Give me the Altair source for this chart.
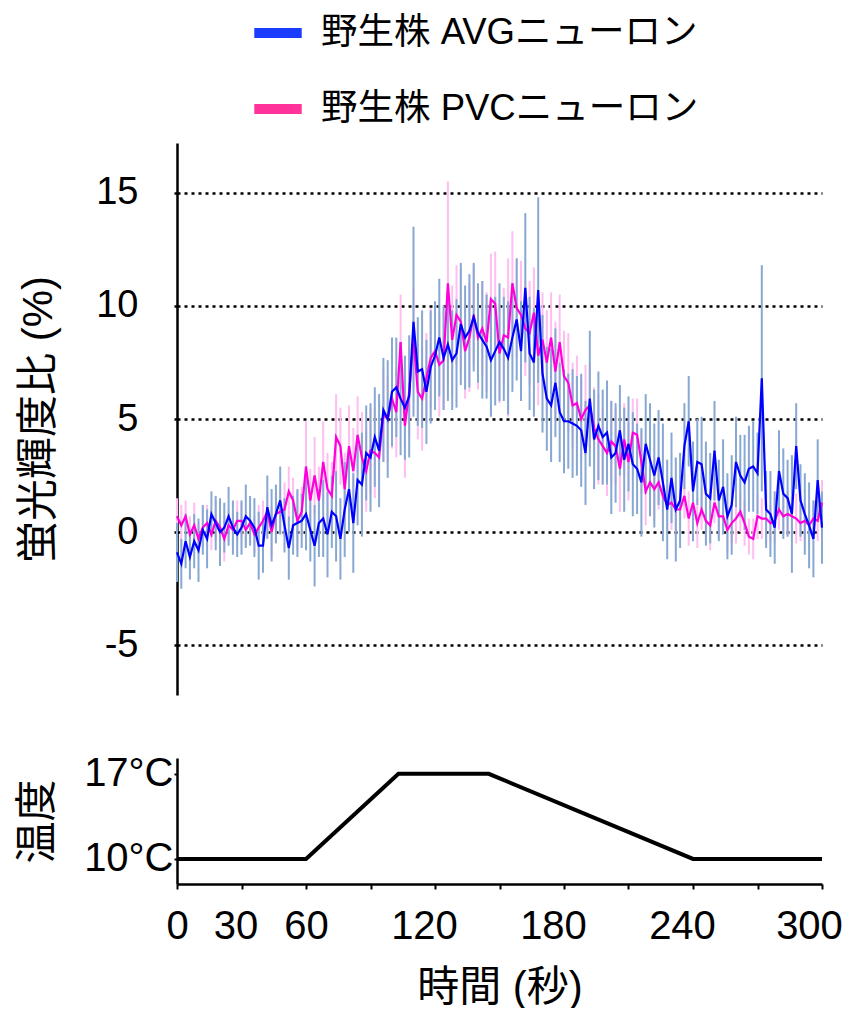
import altair as alt
import pandas as pd

# ---- data ----
time_s = list(range(0, 301, 2))

avg_mean = [
    -0.9, -1.4, -0.4, -1.1, -0.4, -0.8, 0.1, -0.3, 0.8, 0.4, 0.0, 0.2, 0.7, 0.2, -0.1,
    0.2, 0.7, 0.5, 0.2, -0.6, -0.6, 1.1, 0.3, 0.8, 1.4, 0.3, -0.7, 0.3, 0.4, 0.5,
    0.8, 0.1, -0.6, 0.4, 0.6, -0.1, 0.9, 0.7, -0.3, 1.0, 1.9, 0.4, 2.3, 2.1, 3.5,
    3.3, 4.2, 3.6, 5.4, 5.0, 6.2, 6.4, 5.9, 5.5, 6.0, 9.3, 7.1, 7.2, 6.2, 7.3,
    7.8, 8.6, 7.7, 8.3, 7.6, 7.9, 9.2, 8.6, 8.9, 9.5, 8.8, 8.5, 8.2, 7.6, 8.0,
    8.4, 8.1, 7.7, 8.6, 9.4, 8.0, 10.8, 7.9, 7.5, 10.7, 7.0, 5.9, 5.6, 6.6, 5.3,
    4.9, 4.9, 4.8, 4.7, 4.5, 3.5, 5.9, 4.1, 4.7, 4.2, 4.4, 3.3, 3.5, 4.5, 3.2,
    3.9, 3.0, 2.8, 2.2, 3.9, 3.2, 2.5, 3.3, 2.2, 1.0, 2.4, 1.0, 1.4, 3.8, 4.9,
    1.8, 3.1, 3.0, 1.7, 1.5, 3.6, 1.4, 2.0, 0.7, 1.2, 3.1, 2.5, 2.2, 2.8, 2.9,
    2.6, 6.8, 1.0, 0.8, 0.2, 2.7, 1.7, 1.5, 0.8, 3.8, 1.4, 0.8, 0.3, -0.3, 2.3,
    0.2,
]
avg_sem = [
    1.3, 1.1, 1.2, 1.0, 1.2, 1.4, 1.1, 1.3, 1.0, 1.2, 1.5, 1.1, 1.3, 1.2, 1.0,
    1.2, 1.4, 1.1, 1.3, 1.5, 1.2, 1.4, 1.6, 1.3, 1.5, 1.2, 1.4, 1.3, 1.5, 1.2,
    1.6, 1.4, 1.8, 1.5, 1.7, 1.9, 1.6, 2.0, 1.8, 2.1, 1.9, 2.2, 2.0, 2.3, 2.1,
    2.4, 2.2, 2.5, 2.3, 2.6, 2.4, 2.2, 2.5, 2.3, 2.7, 4.2, 2.4, 2.6, 2.3, 2.5,
    2.4, 2.6, 2.3, 2.5, 2.2, 2.4, 2.7, 2.3, 2.5, 2.4, 2.2, 2.6, 2.3, 2.5, 2.4,
    2.6, 2.3, 2.5, 2.4, 2.7, 2.2, 3.3, 2.5, 2.4, 4.1, 2.6, 2.3, 2.5, 2.4, 2.2,
    2.3, 2.1, 2.4, 2.2, 2.5, 2.3, 3.0, 2.2, 2.4, 2.1, 2.3, 2.5, 2.2, 2.0, 2.3,
    2.1, 2.3, 2.0, 2.4, 2.2, 2.5, 2.3, 2.1, 2.6, 2.2, 2.0, 2.3, 2.1, 1.9, 2.0,
    2.2, 1.9, 2.1, 2.3, 2.0, 2.2, 1.8, 2.1, 1.9, 2.2, 2.0, 1.8, 2.1, 1.9, 2.0,
    1.8, 5.0, 1.7, 1.9, 1.6, 1.8, 2.0, 1.7, 2.6, 1.9, 1.6, 1.8, 1.9, 1.7, 1.8,
    1.6,
]
pvc_mean = [
    0.7, 0.3, 0.7, -0.1, 0.3, -0.3, 0.2, 0.4, -0.1, 0.5, 0.2, -0.3, 0.3, 0.1, 0.5,
    0.5, 0.1, 0.4, -0.1, 0.2, 0.5, 0.9, 0.0, 0.8, 0.9, 1.0, 1.8, 1.4, 0.5, 0.9,
    2.9, 1.4, 2.5, 1.4, 3.1, 1.9, 1.6, 4.2, 3.8, 1.9, 3.8, 2.7, 4.3, 3.3, 2.7,
    3.6, 3.5, 3.3, 5.2, 5.0, 5.9, 5.3, 8.4, 4.7, 6.2, 8.6, 6.2, 5.9, 6.8, 7.7,
    8.0, 7.4, 7.6, 11.0, 8.5, 9.6, 9.3, 8.0, 8.6, 9.6, 8.6, 9.0, 8.4, 10.3, 10.1,
    7.9, 8.7, 8.6, 11.0, 9.9, 9.6, 9.0, 8.8, 9.7, 7.8, 8.5, 7.5, 8.6, 7.1, 8.4,
    6.9, 6.6, 5.6, 5.7, 5.0, 5.4, 5.6, 4.6, 4.1, 3.8, 3.5, 4.0, 3.8, 2.8, 4.1,
    3.1, 4.4, 4.3, 3.1, 1.8, 2.2, 1.9, 2.2, 1.6, 1.2, 1.3, 1.0, 1.0, 1.6, 0.6,
    1.3, 0.4, 1.0, 0.5, 0.3, 1.3, 0.7, 0.7, 0.1, 0.4, 0.6, 0.9, 0.4, -0.2, -0.3,
    0.7, 0.6, 0.6, 0.4, 0.5, 1.0, 0.7, 0.8, 0.7, 0.6, 0.4, 0.5, 0.3, 0.6, 0.5,
    1.3,
]
pvc_sem = [
    0.8, 0.9, 0.7, 0.8, 1.0, 0.7, 0.9, 0.8, 0.7, 0.9, 0.8, 1.0, 0.7, 0.8, 0.9,
    0.8, 0.7, 0.9, 0.8, 1.0, 0.9, 0.8, 1.1, 0.9, 1.0, 1.2, 1.1, 1.0, 1.3, 1.1,
    2.0, 1.4, 1.7, 1.5, 1.8, 1.6, 1.5, 1.9, 1.7, 1.6, 1.8, 1.9, 1.7, 2.0, 1.8,
    1.9, 2.0, 1.8, 2.1, 1.9, 2.2, 2.0, 2.1, 2.3, 2.0, 2.2, 2.1, 2.3, 2.0, 2.2,
    2.1, 2.3, 2.2, 4.5, 2.4, 2.2, 2.3, 2.1, 2.4, 2.2, 2.3, 2.1, 2.2, 2.0, 2.3,
    2.2, 2.1, 3.5, 2.3, 2.2, 2.4, 2.1, 2.3, 2.0, 2.2, 2.1, 2.3, 2.0, 2.2, 2.1,
    2.0, 2.2, 1.9, 2.1, 1.8, 2.0, 1.9, 1.8, 2.0, 1.7, 1.9, 1.8, 1.7, 1.9, 1.6,
    1.7, 1.5, 1.6, 1.4, 1.5, 1.3, 1.4, 1.2, 1.3, 1.1, 1.2, 1.0, 1.1, 1.0, 1.2,
    1.0, 1.1, 0.9, 1.0, 1.1, 0.9, 1.0, 0.8, 1.0, 0.9, 1.1, 0.9, 1.0, 0.8, 0.9,
    1.0, 0.9, 1.1, 0.8, 1.0, 0.9, 0.8, 1.0, 0.9, 1.1, 0.8, 0.9, 1.0, 0.8, 0.9,
    1.0,
]

temp_time = [0, 60, 103, 145, 240, 300]
temp_c = [10, 10, 17, 17, 10, 10]

series_names = ["野生株 AVGニューロン", "野生株 PVCニューロン"]
legend_colors = ["#1a3cff", "#ff3399"]
line_colors = ["#0000ff", "#ff00dc"]
err_colors = ["#86a8d3", "#ffbdf0"]

FONT = "Liberation Sans, Noto Sans CJK JP, sans-serif"

rows = []
for k, (means, sems) in enumerate([(pvc_mean, pvc_sem), (avg_mean, avg_sem)]):
    idx = 1 - k
    for t, m, e in zip(time_s, means, sems):
        rows.append({
            "t": t, "mean": m, "lo": m - e, "hi": m + e,
            "series": series_names[idx],
            "linec": line_colors[idx], "errc": err_colors[idx],
        })
df = pd.DataFrame(rows)
temp_df = pd.DataFrame({"t": temp_time, "temp": temp_c})

xs = alt.Scale(domain=[0, 300], nice=False)
ys = alt.Scale(domain=[-7.2, 17.2], nice=False, zero=False)

y_axis = alt.Axis(
    values=[-5, 0, 5, 10, 15], labelExpr="'' + datum.value", title="蛍光輝度比 (%)",
    grid=True, gridDash=[3, 4], gridColor="black", gridWidth=2.5, gridOpacity=1,
    domainColor="black", domainWidth=2.5,
    tickSize=4, tickColor="black", tickWidth=2.5, tickDash=[3, 4],
    labelFontSize=38, labelFont=FONT, labelColor="black", labelPadding=35,
    titleFontSize=42, titleFont=FONT, titleColor="black", titleFontWeight="normal",
    titlePadding=35,
)

err = alt.Chart(df).mark_rule(strokeWidth=2).encode(
    x=alt.X("t:Q", scale=xs, axis=None),
    y=alt.Y("lo:Q", scale=ys, axis=y_axis),
    y2="hi:Q",
    stroke=alt.Stroke("errc:N", scale=None),
)

legend = alt.Legend(
    title=None, orient="none", legendX=72, legendY=-139, direction="vertical",
    symbolType="stroke", symbolStrokeWidth=10, symbolSize=2250,
    labelFontSize=36.5, labelFont=FONT, labelColor="black", labelOffset=14,
    labelLimit=0, rowPadding=27, padding=0, symbolOpacity=1,
)

# zero-length rules that only carry the legend
legend_carrier = alt.Chart(df).transform_filter(
    alt.datum.t == 0
).mark_rule(strokeWidth=10, strokeCap="butt").encode(
    x=alt.X("t:Q", scale=xs),
    y=alt.Y("mean:Q", scale=ys),
    y2="mean:Q",
    color=alt.Color("series:N", scale=alt.Scale(domain=series_names, range=legend_colors), legend=legend),
)

pvc_line = alt.Chart(df).transform_filter(
    alt.datum.series == series_names[1]
).mark_line(strokeWidth=2.2).encode(
    x=alt.X("t:Q", scale=xs),
    y=alt.Y("mean:Q", scale=ys),
    stroke=alt.Stroke("linec:N", scale=None),
)
avg_line = alt.Chart(df).transform_filter(
    alt.datum.series == series_names[0]
).mark_line(strokeWidth=2.2).encode(
    x=alt.X("t:Q", scale=xs),
    y=alt.Y("mean:Q", scale=ys),
    stroke=alt.Stroke("linec:N", scale=None),
)

top = alt.layer(err, pvc_line, avg_line, legend_carrier).properties(width=645, height=552)

x_axis = alt.Axis(
    values=list(range(0, 301, 30)),
    labelExpr="(datum.value == 90 || datum.value == 150 || datum.value == 210 || datum.value == 270) ? '' : datum.label",
    title="時間 (秒)", grid=False, labelFlush=False, labelOverlap=False,
    labelOffset={
        "condition": [
            {"test": "datum.value == 300", "value": -13},
            {"test": "datum.value >= 120 && datum.value <= 240", "value": -11},
            {"test": "datum.value == 30", "value": -6},
        ],
        "value": 0,
    },
    domainColor="black", domainWidth=2.5, tickColor="black", tickWidth=2, tickSize=5,
    labelFontSize=40, labelFont=FONT, labelColor="black", labelPadding=17,
    titleFontSize=42, titleFont=FONT, titleColor="black", titleFontWeight="normal",
    titlePadding=21,
)
t_axis = alt.Axis(
    values=[10, 17], labelExpr="datum.value + '°C'", title="温度", grid=False,
    domainColor="black", domainWidth=2.5, tickColor="black", tickWidth=2, tickSize=3,
    labelFontSize=40, labelFont=FONT, labelColor="black", labelPadding=1,
    titleFontSize=42, titleFont=FONT, titleColor="black", titleFontWeight="normal",
    titlePadding=24,
)
bottom = alt.Chart(temp_df).mark_line(color="black", strokeWidth=4).encode(
    x=alt.X("t:Q", scale=xs, axis=x_axis),
    y=alt.Y("temp:Q", scale=alt.Scale(domain=[7.94, 18.3], nice=False, zero=False), axis=t_axis),
).properties(width=645, height=126)

chart = alt.vconcat(top, bottom, spacing=58).resolve_legend(color="independent").configure_view(
    stroke=None
).properties(padding={"left": 8, "top": -4, "right": 0, "bottom": 0})

chart.save("out.html", embed_options={"renderer": "svg", "actions": False})
